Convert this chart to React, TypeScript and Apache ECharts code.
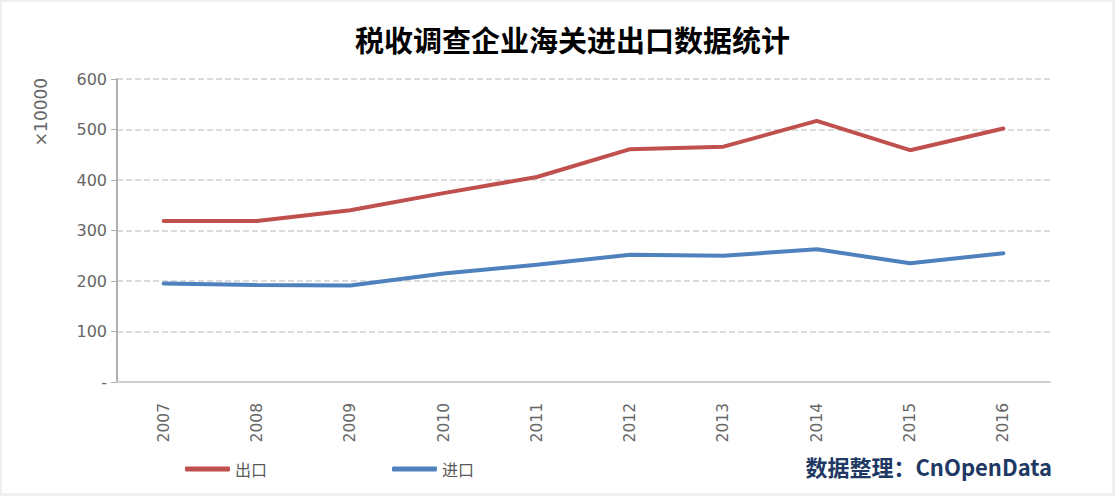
import React, { useEffect, useRef } from "react";
import * as echarts from "echarts";

const years = ["2007", "2008", "2009", "2010", "2011", "2012", "2013", "2014", "2015", "2016"];
const exportValues = [319, 319, 340, 374, 406, 461, 466, 517, 459, 502];
const importValues = [195, 192, 191, 215, 232, 252, 250, 263, 235, 255];
const yTicks = { min: 0, max: 600, interval: 100 };
const titleText = "税收调查企业海关进出口数据统计";
const sourceText = "数据整理：CnOpenData";
const unitText = "×10000";

export default function App() {
  const ref = useRef<HTMLDivElement>(null);
  useEffect(() => {
    if (!ref.current) return;
    const chart = echarts.init(ref.current, null, { renderer: "svg" });
    chart.setOption({
      animation: false,
      backgroundColor: "transparent",
      title: {
        text: titleText,
        left: 350,
        top: 19,
        textStyle: {
          fontSize: 29,
          fontWeight: "bold",
          color: "#000",
          fontFamily: "Noto Sans CJK SC",
        },
      },
      grid: { left: 117, right: 65, top: 79, bottom: 114 },
      legend: {
        left: 180,
        top: 456,
        itemWidth: 45,
        itemHeight: 5,
        itemGap: 125,
        icon: "roundRect",
        textStyle: { fontSize: 16, color: "#595959", fontFamily: "Noto Sans CJK SC" },
        data: ["出口", "进口"],
      },
      xAxis: {
        type: "category",
        data: years,
        boundaryGap: true,
        axisLine: { show: true, lineStyle: { color: "#d0d0d0", width: 2 } },
        axisTick: { show: false },
        axisLabel: {
          rotate: 90,
          margin: 21,
          fontSize: 15.5,
          color: "#666",
          fontFamily: "DejaVu Sans",
        },
      },
      yAxis: {
        type: "value",
        min: yTicks.min,
        max: yTicks.max,
        interval: yTicks.interval,
        axisLine: { show: true, lineStyle: { color: "#b0b0b0", width: 2 } },
        axisTick: { show: true, length: 6, lineStyle: { color: "#b0b0b0" } },
        axisLabel: {
          fontSize: 16,
          color: "#666",
          margin: 10,
          fontFamily: "DejaVu Sans",
          formatter: (v: number) => (v === 0 ? "-" : String(v)),
        },
        splitLine: { show: true, lineStyle: { type: "dashed", color: "#d0d0d0", width: 1.5 } },
      },
      graphic: [
        {
          type: "text",
          x: 41,
          y: 112,
          rotation: Math.PI / 2,
          style: {
            text: unitText,
            fontSize: 17,
            fill: "#666",
            align: "center",
            verticalAlign: "middle",
            fontFamily: "DejaVu Sans",
          },
        },
        {
          type: "text",
          right: 63,
          top: 455,
          style: {
            text: sourceText,
            fontSize: 22,
            fontWeight: "bold",
            fill: "#203864",
            fontFamily: "Noto Sans CJK SC",
          },
        },
      ],
      series: [
        {
          name: "出口",
          type: "line",
          data: exportValues,
          symbol: "none",
          lineStyle: { width: 4, color: "#c0504d", cap: "round" },
          itemStyle: { color: "#c0504d" },
        },
        {
          name: "进口",
          type: "line",
          data: importValues,
          symbol: "none",
          lineStyle: { width: 4, color: "#4f81bd", cap: "round" },
          itemStyle: { color: "#4f81bd" },
        },
      ],
    });
    return () => chart.dispose();
  }, []);
  return (
    <div style={{ position: "fixed", left: 0, top: 0, width: 1115, height: 496, background: "#efefef" }}>
      <div style={{ position: "absolute", left: 2, top: 2, width: 1110, height: 491, background: "#fff" }} />
      <div ref={ref} style={{ position: "absolute", left: 0, top: 0, width: 1115, height: 496 }} />
    </div>
  );
}
